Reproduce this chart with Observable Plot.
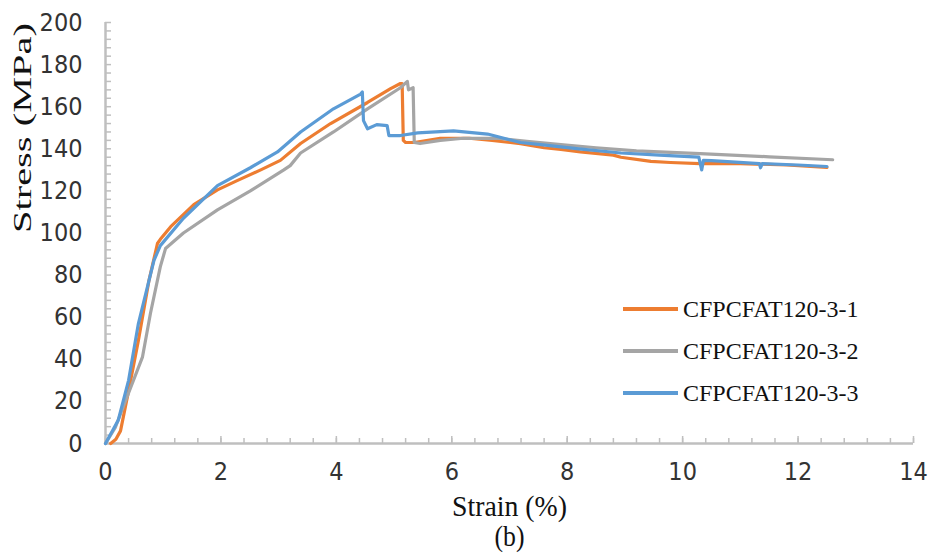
<!DOCTYPE html>
<html>
<head>
<meta charset="utf-8">
<script src="https://cdn.jsdelivr.net/npm/d3@7"></script>
<script src="https://cdn.jsdelivr.net/npm/@observablehq/plot@0.6"></script>
<style>
  html, body { margin: 0; padding: 0; background: #fff; }
  #wrap { position: relative; width: 930px; height: 560px; }
  #legend { position: absolute; left: 623px; top: 288px; font-family: "Liberation Serif", "Times New Roman", serif; font-size: 24px; color: #111; }
  .row { display: flex; align-items: center; height: 42px; }
  .sw { width: 55px; height: 3.5px; margin-right: 5px; }
</style>
</head>
<body>
<div id="wrap"><div id="legend"></div></div>
<script>
// Series names and colours
const seriesNames = ["CFPCFAT120-3-1", "CFPCFAT120-3-2", "CFPCFAT120-3-3"];
const seriesColors = ["#ED7D31", "#A5A5A5", "#5B9BD5"];

// CFPCFAT120-3-1
const strain1 = [0.09, 0.18, 0.26, 0.4, 0.57, 0.75, 0.9, 0.95, 1.13, 1.53, 1.94, 2.29, 2.69, 3.03, 3.38, 3.9, 4.54, 4.94, 5.11, 5.14, 5.16, 5.2, 5.35, 5.8, 6.3, 6.7, 7.19, 7.6, 7.89, 8.23, 8.8, 8.93, 9.45, 9.79, 10.3, 11.0, 11.8, 12.5];
const stress1 = [0, 2, 6, 25, 49, 77, 95, 97, 103, 113.5, 120.5, 125, 130, 134.5, 142.5, 152, 162, 168.6, 171, 171, 144, 143, 143, 145, 145, 144, 142.4, 140.5, 139.7, 138.5, 137, 136, 134, 133.5, 133, 133, 132.3, 131.2];

// CFPCFAT120-3-2
const strain2 = [0, 0.17, 0.4, 0.64, 0.78, 0.95, 1.04, 1.35, 1.94, 2.51, 3.09, 3.2, 3.38, 3.95, 4.54, 5.11, 5.23, 5.25, 5.33, 5.35, 5.45, 5.8, 6.2, 6.8, 7.3, 7.89, 8.5, 9.2, 10.3, 11.5, 12.6];
const stress2 = [0, 7.6, 24, 41, 62, 84, 92.6, 100, 111, 120, 130, 132, 138, 148, 159, 169, 172, 168, 169, 143, 142.5, 144, 145, 145, 143.5, 142, 140.5, 139, 137.7, 136.2, 134.8];

// CFPCFAT120-3-3
const strain3 = [0, 0.22, 0.4, 0.57, 0.75, 0.84, 0.95, 1.35, 1.94, 2.51, 2.98, 3.38, 3.95, 4.42, 4.45, 4.47, 4.54, 4.7, 4.88, 4.91, 5.11, 5.41, 6.03, 6.62, 7.19, 7.54, 8.2, 8.93, 9.6, 10.28, 10.33, 10.36, 10.5, 11.33, 11.35, 11.38, 12.0, 12.5];
const stress3 = [0, 11, 30, 57, 77, 87, 94, 107, 122.5, 131, 138.5, 148, 159, 166, 167, 153.4, 149.5, 151.5, 151, 146.3, 146.3, 147.6, 148.5, 147, 143, 142, 140, 138, 137, 136, 130, 134.5, 134.4, 133, 131, 133, 132.3, 131.6];

// Axis ticks
const xTicks = [0, 2, 4, 6, 8, 10, 12, 14];
const yTicks = [0, 20, 40, 60, 80, 100, 120, 140, 160, 180, 200];

const strains = [strain1, strain2, strain3];
const stresses = [stress1, stress2, stress3];
const data = seriesNames.flatMap((name, s) =>
  strains[s].map((x, i) => ({series: name, strain: x, stress: stresses[s][i]})));

const xMinor = d3.range(0, 36).map(i => +(i * 0.4).toFixed(1));
const yMinor = d3.range(0, 51).map(i => i * 4);

const W = 930, H = 560, ML = 105, MR = 17, MT = 22, MB = 117;
const frameW = W - ML - MR, frameH = H - MT - MB;
const axisColor = "#BFBFBF";
const tickFont = "'Liberation Sans Narrow', 'Arial Narrow', 'DejaVu Sans Condensed', sans-serif";
const serif = "'Liberation Serif', 'Times New Roman', serif";

const chart = Plot.plot({
  width: W, height: H,
  marginLeft: ML, marginRight: MR, marginTop: MT, marginBottom: MB,
  x: {domain: [0, 14]},
  y: {domain: [0, 200]},
  color: {domain: seriesNames, range: seriesColors},
  style: {fontFamily: tickFont, background: "#fff", overflow: "visible"},
  marks: [
    Plot.tickX(xMinor, {x: d => d, stroke: axisColor, strokeWidth: 1.5, insetTop: frameH - 5}),
    Plot.tickX(xTicks, {x: d => d, stroke: axisColor, strokeWidth: 1.5, insetTop: frameH - 7}),
    Plot.tickY(yMinor, {y: d => d, stroke: axisColor, strokeWidth: 1.5, insetRight: frameW - 6}),
    Plot.ruleY([0], {stroke: axisColor, strokeWidth: 2.5}),
    Plot.ruleX([0], {stroke: axisColor, strokeWidth: 2.5}),
    Plot.axisX({ticks: xTicks, tickSize: 0, tickPadding: 19, fontSize: 25, fill: "#333", label: null, tickFormat: d => String(d), className: "xtk"}),
    Plot.axisY({ticks: yTicks, tickSize: 0, tickPadding: 23, fontSize: 25, fill: "#333", label: null, tickFormat: d => String(d), className: "ytk"}),
    Plot.line(data, {x: "strain", y: "stress", z: "series", stroke: "series", strokeWidth: 3.2, strokeLinejoin: "round", strokeLinecap: "round"}),
    Plot.text(["Strain (%)"], {frameAnchor: "bottom", dy: 72, fontSize: 29, fontFamily: serif, fill: "#111", className: "xlab"}),
    Plot.text(["(b)"], {frameAnchor: "bottom", dy: 102, fontSize: 29, fontFamily: serif, fill: "#111", className: "blab"}),
    Plot.text(["Stress (MPa)"], {frameAnchor: "left", dx: -83, rotate: -90, fontSize: 25, fontFamily: serif, fill: "#111", className: "ylab"})
  ]
});

const wrap = document.getElementById("wrap");
wrap.insertBefore(chart, wrap.firstChild);
// match the reference's stretched text proportions
const fit = (sel, len) => chart.querySelectorAll(sel + " text").forEach(t => { t.setAttribute("textLength", len); t.setAttribute("lengthAdjust", "spacingAndGlyphs"); });
fit(".ylab", 210);
fit(".xlab", 115);
fit(".blab", 30);

const legend = document.getElementById("legend");
seriesNames.forEach((name, i) => {
  const row = document.createElement("div");
  row.className = "row";
  const sw = document.createElement("div");
  sw.className = "sw";
  sw.style.background = seriesColors[i];
  const label = document.createElement("span");
  label.textContent = name;
  row.appendChild(sw);
  row.appendChild(label);
  legend.appendChild(row);
});
</script>
</body>
</html>
